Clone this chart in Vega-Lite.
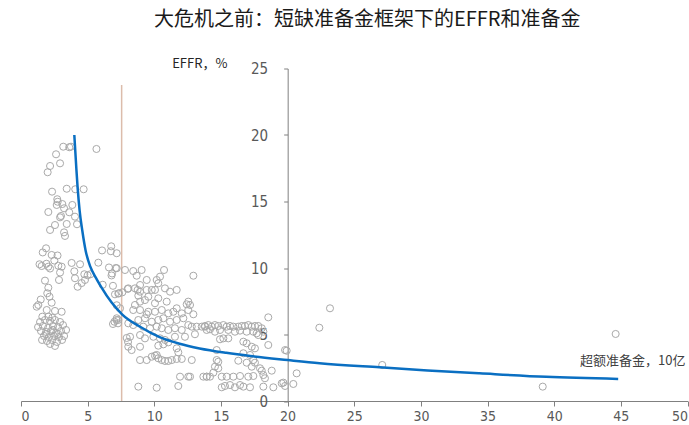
{
  "$schema": "https://vega.github.io/schema/vega-lite/v6.json",
  "width": 666.5,
  "height": 332.5,
  "autosize": {"type": "none"},
  "padding": {"left": 21, "top": 68.5, "right": 1, "bottom": 24},
  "background": "white",
  "title": {
    "text": "大危机之前：短缺准备金框架下的EFFR和准备金",
    "font": "Noto Sans CJK SC",
    "fontSize": 20,
    "fontWeight": "normal",
    "color": "#1a1a1a",
    "anchor": "middle",
    "frame": "group",
    "baseline": "middle",
    "offset": 31,
    "dx": 13,
    "dy": 14
  },
  "datasets": {
    "points": [
      {"x":3.17,"y":19.12},{"x":3.62,"y":19.08},{"x":3.75,"y":19.12},{"x":5.66,"y":18.95},{"x":2.63,"y":18.55},{"x":2.93,"y":17.87},{"x":2.18,"y":17.67},{"x":2.0,"y":17.2},{"x":2.33,"y":15.74},{"x":3.43,"y":15.96},{"x":4.07,"y":15.92},{"x":4.7,"y":15.92},{"x":2.72,"y":15.17},{"x":2.75,"y":14.98},{"x":2.68,"y":14.74},{"x":3.1,"y":14.81},{"x":3.23,"y":14.49},{"x":3.85,"y":14.74},{"x":2.05,"y":14.21},{"x":3.62,"y":14.19},{"x":2.93,"y":13.81},{"x":3.0,"y":13.91},{"x":4.05,"y":13.86},{"x":2.55,"y":13.23},{"x":3.43,"y":13.31},{"x":4.2,"y":13.29},{"x":2.18,"y":12.86},{"x":3.23,"y":12.68},{"x":3.3,"y":12.41},
      {"x":1.88,"y":11.48},{"x":1.63,"y":11.17},{"x":2.3,"y":10.98},{"x":2.74,"y":10.94},{"x":2.5,"y":10.56},{"x":1.39,"y":10.28},{"x":1.55,"y":10.15},{"x":1.91,"y":10.32},{"x":2.05,"y":10.1},{"x":2.18,"y":9.96},{"x":2.8,"y":10.17},{"x":3.05,"y":10.1},{"x":3.8,"y":10.38},{"x":4.43,"y":10.28},{"x":2.93,"y":9.66},{"x":4.0,"y":9.75},{"x":4.05,"y":9.23},{"x":4.75,"y":9.53},{"x":5.0,"y":9.45},{"x":5.21,"y":9.53},{"x":4.8,"y":9.1},{"x":4.55,"y":8.87},{"x":4.25,"y":8.59},{"x":2.85,"y":9.1},{"x":1.8,"y":9.05},{"x":2.05,"y":8.52},{"x":1.97,"y":8.1},{"x":2.14,"y":7.84},{"x":1.48,"y":7.63},{"x":2.3,"y":7.39},{"x":1.3,"y":7.22},{"x":1.18,"y":7.09},{"x":1.93,"y":6.84},{"x":2.55,"y":6.77},{"x":3.05,"y":6.71},{"x":1.6,"y":6.34},{"x":2.05,"y":6.34},{"x":2.35,"y":6.26},
      {"x":6.08,"y":11.32},{"x":6.77,"y":11.63},{"x":6.74,"y":11.26},{"x":7.18,"y":11.11},{"x":5.8,"y":10.4},{"x":6.6,"y":10.04},{"x":7.11,"y":10.0},{"x":6.83,"y":9.59},{"x":6.79,"y":9.44},{"x":6.13,"y":8.74},{"x":6.9,"y":8.66},{"x":7.3,"y":8.08},{"x":7.18,"y":7.2},{"x":7.16,"y":6.09},{"x":7.01,"y":5.96},{"x":7.28,"y":5.84},{"x":6.9,"y":5.79},
      {"x":1.43,"y":5.94},{"x":1.8,"y":6.09},{"x":2.18,"y":6.02},{"x":2.55,"y":6.09},{"x":2.93,"y":5.94},{"x":1.28,"y":5.56},{"x":1.65,"y":5.64},{"x":2.03,"y":5.49},{"x":2.4,"y":5.64},{"x":2.78,"y":5.56},{"x":3.15,"y":5.71},{"x":1.5,"y":5.26},{"x":1.88,"y":5.19},{"x":2.25,"y":5.26},{"x":2.63,"y":5.11},{"x":3.0,"y":5.26},{"x":3.38,"y":5.34},{"x":1.73,"y":4.89},{"x":2.1,"y":4.81},{"x":2.48,"y":4.89},{"x":2.85,"y":4.81},{"x":3.23,"y":4.89},{"x":1.58,"y":4.59},{"x":1.95,"y":4.51},{"x":2.33,"y":4.59},{"x":2.7,"y":4.44},{"x":3.08,"y":4.59},{"x":2.18,"y":4.29},{"x":2.55,"y":4.14},{"x":1.88,"y":5.04},{"x":2.4,"y":5.34},{"x":2.78,"y":5.04},
      {"x":7.18,"y":9.98},{"x":7.8,"y":9.85},{"x":8.42,"y":9.77},{"x":9.05,"y":9.85},{"x":10.73,"y":9.85},{"x":12.93,"y":9.42},{"x":8.68,"y":9.42},{"x":9.43,"y":9.1},{"x":10.18,"y":9.1},{"x":10.43,"y":9.35},{"x":10.3,"y":8.85},{"x":8.93,"y":8.72},{"x":8.05,"y":8.47},{"x":11.68,"y":8.35},{"x":8.55,"y":8.47},{"x":8.75,"y":8.35},{"x":8.93,"y":8.22},{"x":9.43,"y":8.35},{"x":9.81,"y":8.35},{"x":10.05,"y":8.35},{"x":10.8,"y":8.47},{"x":11.18,"y":8.22},{"x":7.05,"y":8.02},{"x":7.35,"y":8.1},{"x":7.6,"y":8.17},{"x":8.0,"y":8.42},{"x":8.8,"y":7.92},{"x":9.55,"y":7.84},{"x":9.3,"y":7.59},{"x":10.3,"y":7.72},{"x":8.93,"y":7.47},{"x":8.55,"y":7.22},{"x":10.05,"y":7.35},{"x":10.93,"y":7.47},{"x":8.42,"y":6.84},{"x":8.93,"y":6.84},{"x":9.55,"y":6.71},{"x":9.43,"y":6.52},{"x":10.05,"y":6.71},{"x":10.56,"y":6.84},{"x":11.05,"y":6.59},{"x":11.43,"y":6.71},{"x":11.68,"y":6.97},{"x":12.06,"y":6.59},{"x":12.43,"y":7.27},{"x":12.55,"y":6.84},{"x":12.93,"y":6.52},{"x":7.43,"y":6.97},{"x":7.18,"y":6.22},{"x":8.8,"y":6.09},{"x":9.3,"y":6.22},{"x":9.81,"y":5.96},{"x":10.3,"y":6.09},{"x":10.68,"y":6.22},{"x":11.18,"y":5.96},{"x":11.68,"y":6.09},{"x":12.18,"y":6.22},{"x":12.55,"y":5.71},{"x":12.81,"y":5.59},{"x":13.18,"y":5.59},{"x":13.56,"y":5.59},{"x":13.8,"y":5.59},{"x":9.17,"y":5.59},{"x":9.68,"y":5.47},{"x":10.18,"y":5.59},{"x":10.56,"y":5.47},{"x":11.05,"y":5.34},{"x":11.55,"y":5.47},{"x":12.06,"y":5.34},{"x":7.3,"y":6.09},{"x":8.05,"y":5.84},{"x":8.42,"y":5.71},{"x":8.18,"y":4.83},{"x":8.93,"y":4.96},{"x":9.3,"y":4.71},{"x":9.93,"y":4.83},{"x":10.43,"y":4.71},{"x":10.8,"y":4.59},{"x":11.05,"y":4.41},{"x":11.55,"y":4.83},{"x":12.3,"y":4.83},{"x":13.05,"y":5.02},{"x":8.05,"y":4.08},{"x":8.3,"y":3.83},{"x":8.93,"y":4.08},{"x":10.3,"y":4.16},{"x":10.68,"y":4.26},{"x":11.68,"y":3.96},{"x":11.8,"y":3.66},{"x":10.18,"y":3.46},{"x":9.81,"y":3.33},{"x":12.81,"y":3.08},{"x":8.93,"y":3.08},{"x":9.43,"y":3.08},{"x":10.05,"y":3.41},{"x":10.3,"y":3.21},{"x":10.56,"y":3.08},{"x":10.8,"y":3.01},{"x":11.05,"y":3.01},{"x":11.31,"y":3.08},{"x":11.68,"y":3.16},{"x":12.06,"y":3.16},{"x":11.93,"y":1.83},{"x":12.55,"y":1.83},{"x":12.68,"y":1.83},{"x":13.68,"y":1.83},{"x":13.93,"y":1.83},{"x":8.8,"y":1.08},{"x":10.18,"y":1.0},{"x":11.8,"y":1.13},{"x":12.55,"y":7.47},{"x":12.68,"y":7.22},{"x":7.93,"y":4.74},{"x":8.03,"y":4.44},
      {"x":13.8,"y":5.64},{"x":14.05,"y":5.71},{"x":14.31,"y":5.59},{"x":14.55,"y":5.71},{"x":14.8,"y":5.64},{"x":15.18,"y":5.71},{"x":15.43,"y":5.59},{"x":15.68,"y":5.64},{"x":15.93,"y":5.59},{"x":16.3,"y":5.59},{"x":16.56,"y":5.64},{"x":16.8,"y":5.64},{"x":17.05,"y":5.71},{"x":17.31,"y":5.59},{"x":17.55,"y":5.64},{"x":17.8,"y":5.64},{"x":18.06,"y":5.47},{"x":18.55,"y":6.29},{"x":13.93,"y":5.34},{"x":14.18,"y":5.39},{"x":14.55,"y":5.21},{"x":14.93,"y":5.34},{"x":15.55,"y":5.34},{"x":16.05,"y":5.21},{"x":16.43,"y":5.29},{"x":16.93,"y":5.21},{"x":17.43,"y":5.21},{"x":17.68,"y":5.09},{"x":17.8,"y":4.96},{"x":18.18,"y":5.21},{"x":14.93,"y":4.64},{"x":15.18,"y":4.71},{"x":15.55,"y":4.71},{"x":16.68,"y":4.46},{"x":16.93,"y":4.34},{"x":18.55,"y":4.21},{"x":17.31,"y":4.08},{"x":17.55,"y":3.96},{"x":14.68,"y":3.83},{"x":19.81,"y":3.83},{"x":19.93,"y":3.78},{"x":16.68,"y":3.59},{"x":17.18,"y":3.46},{"x":14.68,"y":3.08},{"x":14.8,"y":2.95},{"x":16.3,"y":3.03},{"x":16.93,"y":2.88},{"x":17.43,"y":3.08},{"x":17.55,"y":2.88},{"x":14.55,"y":2.58},{"x":14.8,"y":2.46},{"x":17.31,"y":2.58},{"x":17.93,"y":2.46},{"x":18.06,"y":2.28},{"x":18.81,"y":2.28},{"x":20.68,"y":2.08},{"x":14.43,"y":2.13},{"x":13.93,"y":1.83},{"x":14.18,"y":1.83},{"x":15.06,"y":1.83},{"x":15.43,"y":1.83},{"x":15.93,"y":1.83},{"x":16.43,"y":1.88},{"x":17.05,"y":1.83},{"x":17.43,"y":1.88},{"x":18.18,"y":1.95},{"x":18.3,"y":1.71},{"x":15.06,"y":1.03},{"x":15.3,"y":1.13},{"x":15.68,"y":1.2},{"x":16.05,"y":1.03},{"x":16.43,"y":1.2},{"x":16.68,"y":1.08},{"x":17.18,"y":1.03},{"x":18.18,"y":1.08},{"x":18.93,"y":1.03},{"x":19.56,"y":1.33},{"x":19.68,"y":1.38},{"x":20.43,"y":1.28},{"x":19.81,"y":1.13},
      {"x":22.38,"y":5.51},{"x":23.18,"y":6.97},{"x":27.1,"y":2.71},{"x":39.14,"y":1.08},{"x":44.61,"y":5.04}
    ],
    "curve": [
      {"x":4.0,"y":20.0},{"x":4.15,"y":17.5},{"x":4.25,"y":16.0},{"x":4.4,"y":14.3},{"x":4.6,"y":12.8},{"x":4.85,"y":11.3},{"x":5.2,"y":10.1},{"x":5.6,"y":9.3},{"x":6.0,"y":8.6},{"x":6.8,"y":7.4},{"x":7.6,"y":6.5},{"x":8.9,"y":5.6},{"x":10.4,"y":4.8},{"x":11.9,"y":4.3},{"x":13.4,"y":3.95},{"x":15.4,"y":3.62},{"x":17.2,"y":3.38},{"x":20.0,"y":3.08},{"x":22.4,"y":2.84},{"x":26.9,"y":2.53},{"x":30.5,"y":2.3},{"x":34.4,"y":2.08},{"x":39.4,"y":1.82},{"x":44.8,"y":1.66}
    ],
    "vline": [{"x":7.55,"y":0,"y2":23.76}]
  },
  "layer": [
    {
      "data": {"name": "vline"},
      "mark": {"type": "rule", "color": "#dcbcab", "strokeWidth": 1.5},
      "encoding": {
        "x": {"field": "x", "type": "quantitative", "scale": {"domain": [0, 50], "nice": false}},
        "y": {"field": "y", "type": "quantitative", "scale": {"domain": [0, 25], "nice": false}},
        "y2": {"field": "y2"}
      }
    },
    {
      "data": {"name": "points"},
      "mark": {"type": "point", "shape": "circle", "filled": false, "size": 50, "stroke": "#a9a9a9", "strokeWidth": 1, "opacity": 1},
      "encoding": {
        "x": {"field": "x", "type": "quantitative"},
        "y": {"field": "y", "type": "quantitative"}
      }
    },
    {
      "data": {"name": "curve"},
      "mark": {"type": "line", "color": "#0a6fc2", "strokeWidth": 2.5, "interpolate": "monotone"},
      "encoding": {
        "x": {
          "field": "x", "type": "quantitative",
          "scale": {"domain": [0, 50], "nice": false},
          "axis": {
            "values": [0,5,10,15,20,25,30,35,40,45,50],
            "grid": false,
            "labelFont": "Liberation Sans Narrow, DejaVu Sans Condensed, Liberation Sans",
            "labelFontSize": 14,
            "labelColor": "#595959",
            "labelPadding": 3,
            "domainColor": "#808080",
            "tickColor": "#808080",
            "tickSize": 5,
            "title": "超额准备金，10亿",
            "titleFont": "Noto Sans CJK SC",
            "titleFontSize": 13,
            "titleFontWeight": "normal",
            "titleColor": "#404040",
            "titleX": 664,
            "titleY": -41,
            "titleAlign": "right",
            "titleBaseline": "middle"
          }
        },
        "y": {
          "field": "y", "type": "quantitative",
          "scale": {"domain": [0, 25], "nice": false},
          "axis": {
            "values": [0,5,10,15,20,25],
            "grid": false,
            "offset": -266.67,
            "labelFont": "Liberation Sans Narrow, DejaVu Sans Condensed, Liberation Sans",
            "labelFontSize": 15,
            "labelColor": "#595959",
            "labelPadding": 16,
            "domainColor": "#808080",
            "tickColor": "#808080",
            "tickSize": 4,
            "title": "EFFR，%",
            "titleFont": "Liberation Sans Narrow, Noto Sans CJK SC",
            "titleFontSize": 13,
            "titleFontWeight": "normal",
            "titleColor": "#262626",
            "titleAngle": 0,
            "titleX": -116,
            "titleY": -5.5,
            "titleAlign": "left",
            "titleBaseline": "middle"
          }
        }
      }
    }
  ],
  "config": {
    "view": {"stroke": null},
    "axis": {"grid": false}
  }
}
